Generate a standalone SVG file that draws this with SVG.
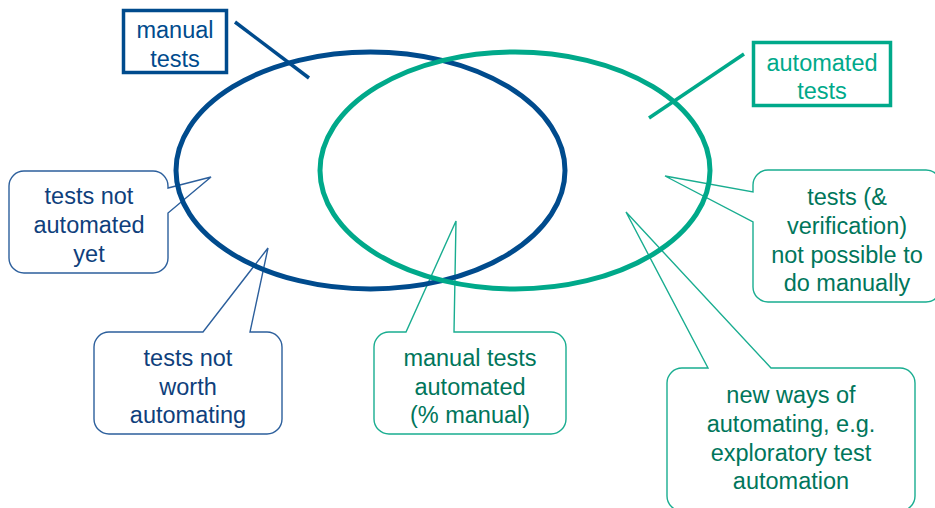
<svg xmlns="http://www.w3.org/2000/svg" width="935" height="508" viewBox="0 0 935 508">
<style>
text{font-family:"Liberation Sans",Arial,sans-serif;font-size:23.5px;text-anchor:middle}
.bt{fill:#0F3F7C}
.gt{fill:#00765B}
.bl{fill:#004B8D}
.gl{fill:#00A98A}
.cb{fill:#fff;stroke:#2C5F9C;stroke-width:1.4;stroke-linejoin:miter}
.cg{fill:#fff;stroke:#19AD90;stroke-width:1.4;stroke-linejoin:miter}
.ell{fill:none;stroke-width:5}
.lead{stroke-width:3.5;fill:none}
</style>
<rect width="935" height="508" fill="#fff"/>
<g id="callout-not-automated-yet">
<path class="cb" d="M24,171 H153 A15,15 0 0 1 168,186 V188 L211,177 L168,213 V258 A15,15 0 0 1 153,273 H24 A15,15 0 0 1 9,258 V186 A15,15 0 0 1 24,171 Z"/>
<text class="bt" x="89" y="204">tests not</text>
<text class="bt" x="89" y="233">automated</text>
<text class="bt" x="89" y="262">yet</text>
</g>
<g id="callout-not-worth">
<path class="cb" d="M109,332 H203 L268,248 L250,332 H267 A15,15 0 0 1 282,347 V419 A15,15 0 0 1 267,434 H109 A15,15 0 0 1 94,419 V347 A15,15 0 0 1 109,332 Z"/>
<text class="bt" x="188" y="366">tests not</text>
<text class="bt" x="188" y="395">worth</text>
<text class="bt" x="188" y="423">automating</text>
</g>
<g id="callout-manual-automated">
<path class="cg" d="M389,332 H406 L456,221 L454,332 H551 A15,15 0 0 1 566,347 V419 A15,15 0 0 1 551,434 H389 A15,15 0 0 1 374,419 V347 A15,15 0 0 1 389,332 Z"/>
<text class="gt" x="470" y="366">manual tests</text>
<text class="gt" x="470" y="395">automated</text>
<text class="gt" x="470" y="423">(% manual)</text>
</g>
<g id="callout-not-possible-manually">
<path class="cg" d="M768,170 H926 A15,15 0 0 1 941,185 V287 A15,15 0 0 1 926,302 H768 A15,15 0 0 1 753,287 V222 L665,176 L753,192 V185 A15,15 0 0 1 768,170 Z"/>
<text class="gt" x="847" y="205">tests (&amp;</text>
<text class="gt" x="847" y="234">verification)</text>
<text class="gt" x="847" y="263">not possible to</text>
<text class="gt" x="847" y="291">do manually</text>
</g>
<g id="callout-new-ways">
<path class="cg" d="M682,368 H708 L626,212 L771,368 H900 A15,15 0 0 1 915,383 V496 A15,15 0 0 1 900,511 H682 A15,15 0 0 1 667,496 V383 A15,15 0 0 1 682,368 Z"/>
<text class="gt" x="791" y="403">new ways of</text>
<text class="gt" x="791" y="432">automating, e.g.</text>
<text class="gt" x="791" y="461">exploratory test</text>
<text class="gt" x="791" y="489">automation</text>
</g>
<g id="manual-tests-set">
<ellipse class="ell" cx="370.5" cy="170.5" rx="194.5" ry="118.5" stroke="#004B8D"/>
</g>
<g id="automated-tests-set">
<ellipse class="ell" cx="515" cy="170.5" rx="195" ry="118.5" stroke="#00A98A"/>
</g>
<g id="connectors">
<line class="lead" x1="235" y1="22" x2="309" y2="78" stroke="#004B8D"/>
<line class="lead" x1="744" y1="54" x2="649" y2="118" stroke="#00A98A"/>
</g>
<g id="label-manual-tests">
<rect x="123.5" y="10.5" width="103" height="62" fill="#fff" stroke="#004B8D" stroke-width="3.5"/>
<text class="bl" x="175" y="38">manual</text>
<text class="bl" x="175" y="67">tests</text>
</g>
<g id="label-automated-tests">
<rect x="753.5" y="42.5" width="137" height="63" fill="#fff" stroke="#00A98A" stroke-width="3.5"/>
<text class="gl" x="822" y="71">automated</text>
<text class="gl" x="822" y="99">tests</text>
</g>
</svg>
